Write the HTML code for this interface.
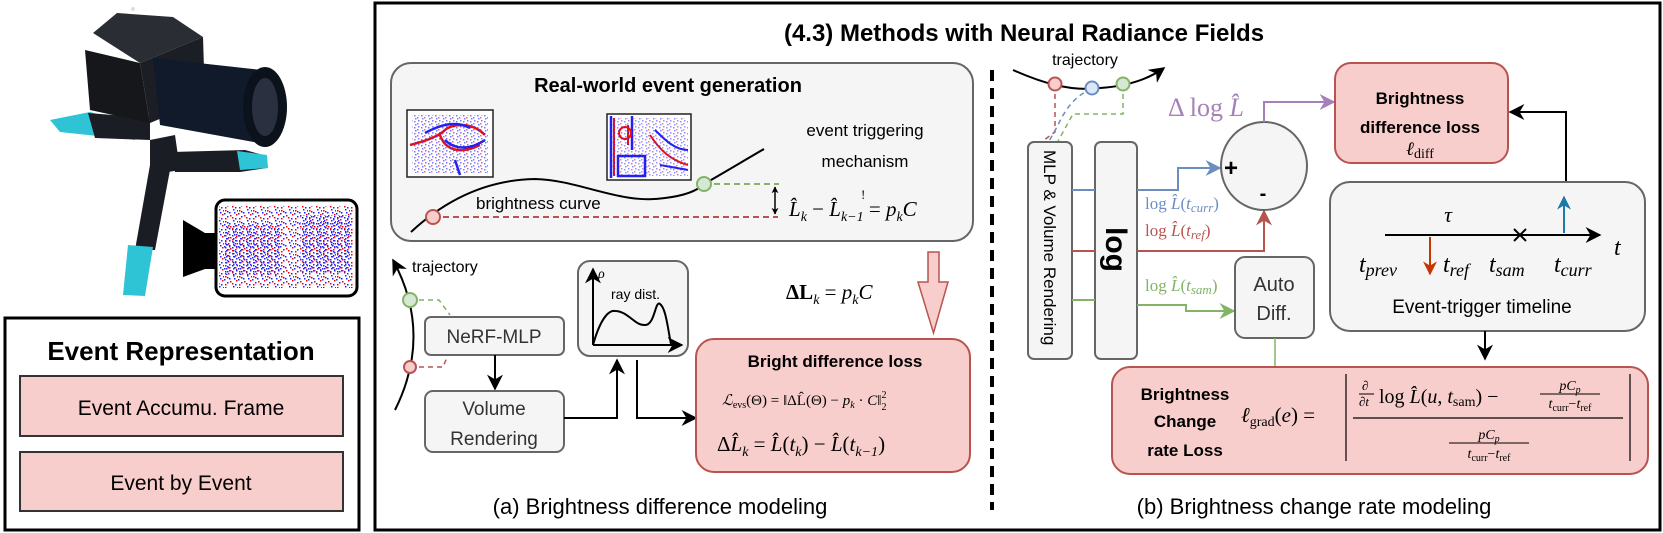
<!DOCTYPE html>
<html><head><meta charset="utf-8"><style>
html,body{margin:0;padding:0;background:#fff;}
svg{display:block;}
text{font-family:"Liberation Sans",sans-serif;}
.m{font-family:"Liberation Serif",serif;font-style:italic;}
.r{font-family:"Liberation Serif",serif;font-style:normal;}
</style></head><body>
<svg width="1663" height="533" viewBox="0 0 1663 533" xmlns="http://www.w3.org/2000/svg">
<defs>
<marker id="ab" viewBox="0 0 10 10" refX="9" refY="5" markerWidth="7" markerHeight="7" orient="auto-start-reverse" markerUnits="userSpaceOnUse"><path d="M0,0 L10,5 L0,10 L3,5 z" fill="#000"/></marker>
<marker id="abk" viewBox="0 0 10 10" refX="9" refY="5" markerWidth="16" markerHeight="16" orient="auto-start-reverse" markerUnits="userSpaceOnUse"><path d="M0,0 L10,5 L0,10 L3,5 z" fill="#000"/></marker>
<marker id="abl" viewBox="0 0 10 10" refX="9" refY="5" markerWidth="16" markerHeight="16" orient="auto" markerUnits="userSpaceOnUse"><path d="M0,0 L10,5 L0,10 L3,5 z" fill="#6c8ebf"/></marker>
<marker id="are" viewBox="0 0 10 10" refX="9" refY="5" markerWidth="16" markerHeight="16" orient="auto" markerUnits="userSpaceOnUse"><path d="M0,0 L10,5 L0,10 L3,5 z" fill="#b85450"/></marker>
<marker id="agr" viewBox="0 0 10 10" refX="9" refY="5" markerWidth="16" markerHeight="16" orient="auto" markerUnits="userSpaceOnUse"><path d="M0,0 L10,5 L0,10 L3,5 z" fill="#82b366"/></marker>
<marker id="apu" viewBox="0 0 10 10" refX="9" refY="5" markerWidth="16" markerHeight="16" orient="auto" markerUnits="userSpaceOnUse"><path d="M0,0 L10,5 L0,10 L3,5 z" fill="#a680b8"/></marker>
<marker id="aor" viewBox="0 0 10 10" refX="9" refY="5" markerWidth="14" markerHeight="14" orient="auto" markerUnits="userSpaceOnUse"><path d="M0,0 L10,5 L0,10 L3,5 z" fill="#c73500"/></marker>
<marker id="acy" viewBox="0 0 10 10" refX="9" refY="5" markerWidth="14" markerHeight="14" orient="auto" markerUnits="userSpaceOnUse"><path d="M0,0 L10,5 L0,10 L3,5 z" fill="#1a7aa8"/></marker>
<pattern id="noise" width="14" height="11" patternUnits="userSpaceOnUse">
<rect width="14" height="11" fill="#fff"/>
<rect x="1" y="1" width="1.5" height="1.5" fill="#e00"/><rect x="5" y="3" width="1.5" height="1.5" fill="#22f"/><rect x="9" y="0" width="1.5" height="1.5" fill="#22f"/><rect x="12" y="5" width="1.5" height="1.5" fill="#e00"/><rect x="3" y="7" width="1.5" height="1.5" fill="#22f"/><rect x="8" y="8" width="1.5" height="1.5" fill="#e00"/><rect x="11" y="9" width="1.5" height="1.5" fill="#22f"/><rect x="0" y="4" width="1.5" height="1.5" fill="#22f"/><rect x="6" y="6" width="1.5" height="1.5" fill="#e00"/><rect x="3" y="2" width="1.5" height="1.5" fill="#22f"/><rect x="10" y="3" width="1.5" height="1.5" fill="#22f"/><rect x="13" y="1" width="1" height="1.5" fill="#e00"/><rect x="1" y="9" width="1.5" height="1.5" fill="#e00"/>
</pattern>
<pattern id="noise2" width="7" height="6" patternUnits="userSpaceOnUse">
<rect x="1" y="1" width="1.5" height="1.5" fill="#22f"/><rect x="4" y="3" width="1.5" height="1.5" fill="#e00"/><rect x="2" y="4" width="1.5" height="1.5" fill="#22f"/><rect x="5" y="0" width="1.5" height="1.5" fill="#22f"/>
</pattern>
</defs>

<!-- ===== Camera ===== -->
<g>
<polygon points="50,120 90,112 133,124 135,140 60,132" fill="#2fc3d6"/>
<polygon points="88,113 150,118 150,140 95,138" fill="#1a1d24"/>
<polygon points="93,33 117,13 173,17 203,37 140,63" fill="#2a2d33"/>
<polygon points="85,50 140,63 150,123 90,110" fill="#15171b"/>
<polygon points="140,63 203,37 205,100 150,123" fill="#1b1e25"/>
<polygon points="153,58 262,70 270,145 160,125" fill="#101a2a"/>
<ellipse cx="265" cy="107" rx="22" ry="40" fill="#0c121c"/>
<ellipse cx="265" cy="107" rx="13" ry="29" fill="#2a3040"/>
<polygon points="150,140 175,135 180,170 150,175" fill="#1a1d24"/>
<polygon points="172,152 245,150 267,156 267,168 240,172 175,172" fill="#1a1d24"/>
<polygon points="237,151 267,155 268,168 240,170" fill="#2fc3d6"/>
<polygon points="150,165 170,170 155,250 135,250" fill="#1a1d24"/>
<polygon points="128,245 153,247 145,296 123,295" fill="#2fc3d6"/>
<circle cx="133" cy="9" r="2" fill="#ddd"/>
</g>
<!-- event frame box -->
<rect x="216" y="200" width="141" height="96" rx="9" fill="#fff" stroke="#000" stroke-width="3"/>
<rect x="219" y="206" width="134" height="82" fill="url(#noise)"/>
<rect x="225" y="225" width="55" height="50" fill="url(#noise2)"/>
<rect x="300" y="215" width="50" height="58" fill="url(#noise2)"/>
<polygon points="183,220 205,233 216,233 216,269 205,269 183,277" fill="#000"/>

<!-- Event Representation -->
<rect x="5" y="318" width="354" height="212" fill="#fff" stroke="#000" stroke-width="3"/>
<text x="181" y="360" text-anchor="middle" font-size="26" font-weight="bold">Event Representation</text>
<rect x="20" y="376" width="323" height="60" fill="#f8cecc" stroke="#333" stroke-width="2"/>
<text x="181" y="415" text-anchor="middle" font-size="21">Event Accumu. Frame</text>
<rect x="20" y="452" width="323" height="59" fill="#f8cecc" stroke="#333" stroke-width="2"/>
<text x="181" y="490" text-anchor="middle" font-size="21">Event by Event</text>

<!-- Main box -->
<rect x="375" y="3" width="1285" height="527" fill="#fff" stroke="#000" stroke-width="3"/>
<text x="1024" y="41" text-anchor="middle" font-size="24" font-weight="bold">(4.3) Methods with Neural Radiance Fields</text>

<!-- ===== (a) ===== -->
<rect x="391" y="63" width="582" height="178" rx="20" fill="#f5f5f5" stroke="#666" stroke-width="2"/>
<text x="668" y="92" text-anchor="middle" font-size="20" font-weight="bold">Real-world event generation</text>
<rect x="407" y="110" width="86" height="67" fill="#fff" stroke="#222" stroke-width="1.5"/>
<path d="M410,145 C430,140 440,135 445,130 C450,125 470,120 485,135 M440,135 C445,150 460,155 480,145" stroke="#e11" stroke-width="2.5" fill="none"/>
<path d="M425,133 C440,125 455,120 470,128 M445,140 C455,150 470,150 485,140 M455,160 L460,175" stroke="#22e" stroke-width="2.5" fill="none"/>
<rect x="412" y="115" width="76" height="58" fill="url(#noise2)" opacity="0.6"/>
<rect x="607" y="114" width="84" height="66" fill="#fff" stroke="#222" stroke-width="1.5"/>
<path d="M611,116 L611,178 M632,116 L632,150 M618,156 L645,156 L645,176 L618,176 z" stroke="#22e" stroke-width="2.5" fill="none"/>
<path d="M614,118 L614,176 M628,125 L628,145 M650,135 C660,150 670,160 688,165" stroke="#e11" stroke-width="2" fill="none"/>
<circle cx="625" cy="133" r="6" stroke="#e11" stroke-width="2" fill="none"/>
<path d="M655,130 C665,140 675,150 688,150 M660,165 L688,170" stroke="#22e" stroke-width="2" fill="none"/>
<rect x="612" y="118" width="76" height="58" fill="url(#noise2)" opacity="0.5"/>
<text x="865" y="136" text-anchor="middle" font-size="17">event triggering</text>
<text x="865" y="167" text-anchor="middle" font-size="17">mechanism</text>
<path d="M411,232 C440,205 480,180 535,179 C580,180 620,205 665,198 C690,195 700,188 704,184 C720,175 745,160 764,149" stroke="#000" stroke-width="2" fill="none"/>
<text x="476" y="209" font-size="17">brightness curve</text>
<line x1="433" y1="217" x2="778" y2="217" stroke="#b85450" stroke-width="2" stroke-dasharray="6,4"/>
<line x1="704" y1="184" x2="779" y2="184" stroke="#82b366" stroke-width="2" stroke-dasharray="6,4"/>
<circle cx="433" cy="217" r="7" fill="#f8cecc" stroke="#b85450" stroke-width="2"/>
<circle cx="704" cy="184" r="7" fill="#d5e8d4" stroke="#82b366" stroke-width="2"/>
<line x1="775" y1="187" x2="775" y2="214" stroke="#000" stroke-width="1.5" marker-start="url(#ab)" marker-end="url(#ab)"/>
<text x="789" y="216" font-size="21" class="m">L̂<tspan font-size="14" dy="5">k</tspan><tspan dy="-5" class="r"> − </tspan>L̂<tspan font-size="14" dy="5">k−1</tspan><tspan dy="-5" class="r"> = </tspan>p<tspan font-size="14" dy="5">k</tspan><tspan dy="-5">C</tspan></text>
<text x="861" y="199" font-size="13" class="r">!</text>

<!-- hollow arrow -->
<polygon points="928,252 939,252 939,282 948,282 933.5,333 918,282 928,282" fill="#f8cecc" stroke="#b85450" stroke-width="1.5"/>
<text x="786" y="299" font-size="21" class="r" font-weight="bold">ΔL<tspan font-size="14" dy="5" class="m" font-weight="normal">k</tspan><tspan dy="-5" font-weight="normal"> = </tspan><tspan class="m" font-weight="normal">p</tspan><tspan font-size="14" dy="5" class="m" font-weight="normal">k</tspan><tspan dy="-5" class="m" font-weight="normal">C</tspan></text>

<!-- trajectory a -->
<path d="M395,410 C420,360 420,310 393,260" stroke="#000" stroke-width="2" fill="none" marker-end="url(#abk)"/>
<text x="412" y="272" font-size="16">trajectory</text>
<path d="M410,300 L439,300 L450,315" stroke="#82b366" stroke-width="1.5" stroke-dasharray="5,4" fill="none"/>
<path d="M410,367 L443,367 L450,350" stroke="#b85450" stroke-width="1.5" stroke-dasharray="5,4" fill="none"/>
<circle cx="410" cy="300" r="7" fill="#d5e8d4" stroke="#82b366" stroke-width="2"/>
<circle cx="410" cy="367" r="6" fill="#f8cecc" stroke="#b85450" stroke-width="2"/>
<rect x="425" y="317" width="139" height="38" rx="6" fill="#f5f5f5" stroke="#666" stroke-width="2"/>
<text x="494" y="343" text-anchor="middle" font-size="19" fill="#333">NeRF-MLP</text>
<line x1="495" y1="355" x2="495" y2="389" stroke="#000" stroke-width="2" marker-end="url(#abk)"/>
<rect x="425" y="391" width="139" height="61" rx="8" fill="#f5f5f5" stroke="#666" stroke-width="2"/>
<text x="494" y="415" text-anchor="middle" font-size="19" fill="#333">Volume</text>
<text x="494" y="445" text-anchor="middle" font-size="19" fill="#333">Rendering</text>
<path d="M564,418 L617,418 L617,360" stroke="#000" stroke-width="2" fill="none" marker-end="url(#abk)"/>
<rect x="578" y="261" width="110" height="95" rx="12" fill="#f5f5f5" stroke="#666" stroke-width="2"/>
<line x1="593" y1="345" x2="593" y2="269" stroke="#000" stroke-width="2" marker-end="url(#abk)"/>
<line x1="593" y1="345" x2="682" y2="345" stroke="#000" stroke-width="2" marker-end="url(#abk)"/>
<text x="598" y="278" font-size="14" class="m">ρ</text>
<text x="611" y="299" font-size="14">ray dist.</text>
<path d="M593,345 C600,320 608,310 615,311 C628,311 635,326 645,325 C655,325 655,300 660,304 C666,308 668,330 671,344" stroke="#000" stroke-width="2" fill="none"/>
<path d="M637,360 L637,418 L696,418" stroke="#000" stroke-width="2" fill="none" marker-end="url(#abk)"/>
<rect x="696" y="339" width="274" height="133" rx="18" fill="#f8cecc" stroke="#b85450" stroke-width="2"/>
<text x="835" y="367" text-anchor="middle" font-size="17" font-weight="bold">Bright difference loss</text>
<text x="722" y="405" font-size="15" class="m">ℒ<tspan font-size="10" dy="3" class="r">evs</tspan><tspan dy="-3" class="r">(Θ) = ‖ΔL̂(Θ) − </tspan>p<tspan font-size="10" dy="3">k</tspan><tspan dy="-3" class="r"> · </tspan>C<tspan class="r">‖</tspan><tspan font-size="10" dy="-7" class="r">2</tspan><tspan font-size="10" dx="-5" dy="12" class="r">2</tspan></text>
<text x="717" y="451" font-size="21" class="m"><tspan class="r">Δ</tspan>L̂<tspan font-size="14" dy="5">k</tspan><tspan dy="-5" class="r"> = </tspan>L̂<tspan class="r">(</tspan>t<tspan font-size="14" dy="5">k</tspan><tspan dy="-5" class="r">) − </tspan>L̂<tspan class="r">(</tspan>t<tspan font-size="14" dy="5">k−1</tspan><tspan dy="-5" class="r">)</tspan></text>
<text x="660" y="514" text-anchor="middle" font-size="22">(a) Brightness difference modeling</text>

<!-- dashed separator -->
<line x1="992" y1="70" x2="992" y2="510" stroke="#000" stroke-width="4" stroke-dasharray="11,7"/>

<!-- ===== (b) ===== -->
<text x="1085" y="65" text-anchor="middle" font-size="16">trajectory</text>
<path d="M1013,70 C1040,82 1070,92 1100,88 C1130,86 1150,78 1164,68" stroke="#000" stroke-width="2" fill="none" marker-end="url(#abk)"/>
<path d="M1055,85 L1055,132 L1040,143" stroke="#b85450" stroke-width="1.5" stroke-dasharray="5,4" fill="none"/>
<path d="M1092,89 C1075,95 1065,110 1058,125 L1048,143" stroke="#6c8ebf" stroke-width="1.5" stroke-dasharray="5,4" fill="none"/>
<path d="M1123,85 L1123,114 L1073,114 L1057,143" stroke="#82b366" stroke-width="1.5" stroke-dasharray="5,4" fill="none"/>
<circle cx="1055" cy="84" r="6.5" fill="#f8cecc" stroke="#b85450" stroke-width="2"/>
<circle cx="1092" cy="88" r="6.5" fill="#dae8fc" stroke="#6c8ebf" stroke-width="2"/>
<circle cx="1123" cy="84" r="6.5" fill="#d5e8d4" stroke="#82b366" stroke-width="2"/>

<rect x="1028" y="142" width="44" height="217" rx="6" fill="#f5f5f5" stroke="#666" stroke-width="2"/>
<text transform="translate(1044,150) rotate(90)" font-size="17">MLP &amp; Volume Rendering</text>
<rect x="1095" y="142" width="42" height="217" rx="6" fill="#f5f5f5" stroke="#666" stroke-width="2"/>
<text transform="translate(1106,227) rotate(90)" font-size="30" font-weight="bold">log</text>
<line x1="1072" y1="190" x2="1095" y2="190" stroke="#6c8ebf" stroke-width="2"/>
<line x1="1072" y1="251" x2="1095" y2="251" stroke="#b85450" stroke-width="2"/>
<line x1="1072" y1="300" x2="1095" y2="300" stroke="#82b366" stroke-width="2"/>
<path d="M1137,190 L1178,190 L1178,168 L1220,168" stroke="#6c8ebf" stroke-width="2" fill="none" marker-end="url(#abl)"/>
<path d="M1137,251 L1264,251 L1264,211" stroke="#b85450" stroke-width="2" fill="none" marker-end="url(#are)"/>
<path d="M1137,305 L1186,305 L1186,311 L1234,311" stroke="#82b366" stroke-width="2" fill="none" marker-end="url(#agr)"/>
<ellipse cx="1264" cy="166" rx="43" ry="44" fill="#f5f5f5" stroke="#666" stroke-width="2"/>
<text x="1231" y="176" text-anchor="middle" font-size="24" font-weight="bold">+</text>
<text x="1263" y="200" text-anchor="middle" font-size="20" font-weight="bold">-</text>
<text x="1145" y="209" font-size="17" class="r" fill="#6c8ebf">log <tspan class="m">L̂</tspan>(<tspan class="m">t</tspan><tspan class="m" font-size="13" dy="3">curr</tspan><tspan dy="-3">)</tspan></text>
<text x="1145" y="236" font-size="17" class="r" fill="#b85450">log <tspan class="m">L̂</tspan>(<tspan class="m">t</tspan><tspan class="m" font-size="13" dy="3">ref</tspan><tspan dy="-3">)</tspan></text>
<text x="1145" y="291" font-size="17" class="r" fill="#82b366">log <tspan class="m">L̂</tspan>(<tspan class="m">t</tspan><tspan class="m" font-size="13" dy="3">sam</tspan><tspan dy="-3">)</tspan></text>
<text x="1168" y="116" font-size="26" class="r" fill="#a680b8">Δ log <tspan class="m">L̂</tspan></text>
<path d="M1264,122 L1264,102 L1334,102" stroke="#a680b8" stroke-width="2" fill="none" marker-end="url(#apu)"/>

<rect x="1335" y="63" width="173" height="100" rx="16" fill="#f8cecc" stroke="#b85450" stroke-width="2"/>
<text x="1420" y="104" text-anchor="middle" font-size="17" font-weight="bold">Brightness</text>
<text x="1420" y="133" text-anchor="middle" font-size="17" font-weight="bold">difference loss</text>
<text x="1420" y="155" text-anchor="middle" font-size="19" class="m">ℓ<tspan class="r" font-size="14" dy="3">diff</tspan></text>
<path d="M1566,181 L1566,112 L1510,112" stroke="#000" stroke-width="2" fill="none" marker-end="url(#abk)"/>

<rect x="1330" y="182" width="315" height="149" rx="20" fill="#f5f5f5" stroke="#666" stroke-width="2"/>
<line x1="1385" y1="235" x2="1600" y2="235" stroke="#000" stroke-width="2" marker-end="url(#abk)"/>
<text x="1448" y="222" text-anchor="middle" font-size="22" class="m">τ</text>
<path d="M1514,229 L1526,241 M1526,229 L1514,241" stroke="#000" stroke-width="2"/>
<line x1="1430" y1="237" x2="1430" y2="274" stroke="#c73500" stroke-width="2" marker-end="url(#aor)"/>
<line x1="1564" y1="233" x2="1564" y2="197" stroke="#1a7aa8" stroke-width="2" marker-end="url(#acy)"/>
<text x="1359" y="272" font-size="24" class="m">t<tspan font-size="18" dy="4">prev</tspan></text>
<text x="1443" y="272" font-size="24" class="m">t<tspan font-size="18" dy="4">ref</tspan></text>
<text x="1489" y="272" font-size="24" class="m">t<tspan font-size="18" dy="4">sam</tspan></text>
<text x="1554" y="272" font-size="24" class="m">t<tspan font-size="18" dy="4">curr</tspan></text>
<text x="1614" y="255" font-size="24" class="m">t</text>
<text x="1482" y="313" text-anchor="middle" font-size="19">Event-trigger timeline</text>
<line x1="1485" y1="331" x2="1485" y2="359" stroke="#000" stroke-width="2" marker-end="url(#abk)"/>

<rect x="1235" y="257" width="79" height="81" rx="10" fill="#f5f5f5" stroke="#666" stroke-width="2"/>
<text x="1274" y="291" text-anchor="middle" font-size="20" fill="#333">Auto</text>
<text x="1274" y="320" text-anchor="middle" font-size="20" fill="#333">Diff.</text>
<line x1="1275" y1="338" x2="1275" y2="367" stroke="#82b366" stroke-width="1.5"/>

<rect x="1112" y="367" width="536" height="107" rx="18" fill="#f8cecc" stroke="#b85450" stroke-width="2"/>
<text x="1185" y="400" text-anchor="middle" font-size="17" font-weight="bold">Brightness</text>
<text x="1185" y="427" text-anchor="middle" font-size="17" font-weight="bold">Change</text>
<text x="1185" y="456" text-anchor="middle" font-size="17" font-weight="bold">rate Loss</text>
<text x="1241" y="422" font-size="21" class="m">ℓ<tspan class="r" font-size="14" dy="4">grad</tspan><tspan class="r" dy="-4">(</tspan>e<tspan class="r">) =</tspan></text>
<line x1="1346" y1="374" x2="1346" y2="461" stroke="#000" stroke-width="1.2"/>
<line x1="1630" y1="374" x2="1630" y2="461" stroke="#000" stroke-width="1.2"/>
<line x1="1353" y1="418" x2="1623" y2="418" stroke="#000" stroke-width="1.2"/>
<text x="1362" y="390" font-size="13" class="m">∂</text>
<line x1="1359" y1="394" x2="1374" y2="394" stroke="#000" stroke-width="1"/>
<text x="1359" y="406" font-size="13" class="m">∂t</text>
<text x="1379" y="403" font-size="20" class="r">log <tspan class="m">L̂</tspan>(<tspan class="m">u</tspan>, <tspan class="m">t</tspan><tspan font-size="14" dy="3">sam</tspan><tspan dy="-3">) −</tspan></text>
<text x="1570" y="390" text-anchor="middle" font-size="14" class="m">pC<tspan font-size="10" dy="3">p</tspan></text>
<line x1="1540" y1="394" x2="1600" y2="394" stroke="#000" stroke-width="1"/>
<text x="1570" y="408" text-anchor="middle" font-size="14" class="m">t<tspan class="r" font-size="10" dy="3">curr</tspan><tspan class="r" dy="-3">−</tspan>t<tspan class="r" font-size="10" dy="3">ref</tspan></text>
<text x="1489" y="439" text-anchor="middle" font-size="14" class="m">pC<tspan font-size="10" dy="3">p</tspan></text>
<line x1="1449" y1="443" x2="1529" y2="443" stroke="#000" stroke-width="1"/>
<text x="1489" y="458" text-anchor="middle" font-size="14" class="m">t<tspan class="r" font-size="10" dy="3">curr</tspan><tspan class="r" dy="-3">−</tspan>t<tspan class="r" font-size="10" dy="3">ref</tspan></text>

<text x="1314" y="514" text-anchor="middle" font-size="22">(b) Brightness change rate modeling</text>
</svg>
</body></html>
